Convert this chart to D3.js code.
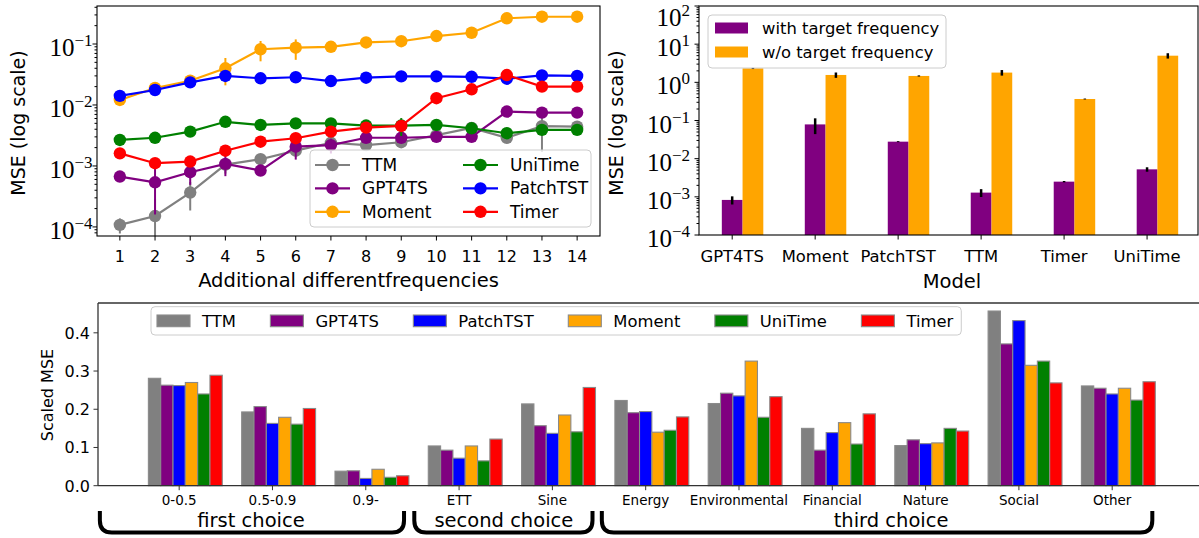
<!DOCTYPE html>
<html>
<head>
<meta charset="utf-8">
<script src="https://cdn.jsdelivr.net/npm/d3@7"></script>
<style>
  body { margin: 0; background: #fff; }
  svg { display: block; }
  text { font-family: "DejaVu Sans", sans-serif; fill: #000; }
</style>
</head>
<body>
<svg id="chart" width="1199" height="538"></svg>
<script>
// ---- data: top left (MSE vs additional frequencies) ----
var steps = [1, 2, 3, 4, 5, 6, 7, 8, 9, 10, 11, 12, 13, 14];
var lineModels = ["TTM", "GPT4TS", "Moment", "UniTime", "PatchTST", "Timer"];
var ttmMse      = [0.000108, 0.000151, 0.000366, 0.00105, 0.00129, 0.00178, 0.0024, 0.0022, 0.00245, 0.0032, 0.0042, 0.0029, 0.0045, 0.0044];
var ttmErr      = [0.00003, 0.00014, 0.00018, 0.0003, 0.0002, 0.0003, 0.0004, 0.0003, 0.0003, 0.0003, 0.0004, 0.0004, 0.0028, 0.0005];
var gpt4tsMse   = [0.00067, 0.00054, 0.00079, 0.00108, 0.00084, 0.00207, 0.0022, 0.0029, 0.0029, 0.003, 0.003, 0.0078, 0.0075, 0.0075];
var gpt4tsErr   = [0.0001, 0.00038, 0.0003, 0.0004, 0.0001, 0.0008, 0.0006, 0.0003, 0.0003, 0.0003, 0.0003, 0.0008, 0.0005, 0.0005];
var momentMse   = [0.0121, 0.019, 0.025, 0.040, 0.082, 0.087, 0.090, 0.106, 0.111, 0.135, 0.153, 0.264, 0.28, 0.28];
var momentErr   = [0.001, 0.001, 0.002, 0.019, 0.03, 0.032, 0.008, 0.008, 0.008, 0.01, 0.01, 0.015, 0.015, 0.015];
var unitimeMse  = [0.00267, 0.0029, 0.00365, 0.0053, 0.0047, 0.0050, 0.0050, 0.0046, 0.0046, 0.0047, 0.00415, 0.00344, 0.0039, 0.0039];
var unitimeErr  = [0.0002, 0.0002, 0.0003, 0.0003, 0.0003, 0.0003, 0.0003, 0.0003, 0.0015, 0.0003, 0.0003, 0.0003, 0.0003, 0.0003];
var patchtstMse = [0.0141, 0.0176, 0.0235, 0.0299, 0.0274, 0.0285, 0.0247, 0.028, 0.0295, 0.0295, 0.029, 0.027, 0.0306, 0.030];
var patchtstErr = [0.001, 0.001, 0.001, 0.001, 0.001, 0.001, 0.001, 0.001, 0.001, 0.001, 0.001, 0.001, 0.001, 0.001];
var timerMse    = [0.00161, 0.00111, 0.00118, 0.00178, 0.0025, 0.00285, 0.00366, 0.00425, 0.00453, 0.0129, 0.0181, 0.031, 0.020, 0.020];
var timerErr    = [0.0001, 0.0001, 0.0001, 0.0001, 0.0001, 0.0002, 0.0002, 0.0002, 0.0002, 0.0005, 0.0005, 0.002, 0.001, 0.001];

// ---- data: top right (with / without target frequency) ----
var barModels     = ["GPT4TS", "Moment", "PatchTST", "TTM", "Timer", "UniTime"];
var withFreq      = [0.00083, 0.079, 0.0279, 0.00129, 0.0025, 0.00525];
var withFreqErr   = [0.0002, 0.035, 0.0008, 0.0003, 0.0001, 0.0007];
var withoutFreq   = [2.33, 1.56, 1.47, 1.8, 0.366, 4.99];
var withoutFreqErr = [0.1, 0.25, 0.05, 0.3, 0.01, 0.8];

// ---- data: bottom (scaled MSE per group) ----
var groups = ["0-0.5", "0.5-0.9", "0.9-", "ETT", "Sine", "Energy", "Environmental", "Financial", "Nature", "Social", "Other"];
var groupModels = ["TTM", "GPT4TS", "PatchTST", "Moment", "UniTime", "Timer"];
var ttmScaled      = [0.281, 0.193, 0.038, 0.104, 0.214, 0.223, 0.215, 0.150, 0.105, 0.457, 0.261];
var gpt4tsScaled   = [0.263, 0.207, 0.039, 0.093, 0.157, 0.191, 0.242, 0.093, 0.120, 0.371, 0.255];
var patchtstScaled = [0.262, 0.163, 0.019, 0.072, 0.137, 0.194, 0.235, 0.139, 0.110, 0.432, 0.240];
var momentScaled   = [0.270, 0.179, 0.043, 0.104, 0.185, 0.140, 0.326, 0.165, 0.112, 0.315, 0.255];
var unitimeScaled  = [0.240, 0.161, 0.022, 0.065, 0.141, 0.145, 0.179, 0.109, 0.150, 0.326, 0.224];
var timerScaled    = [0.289, 0.202, 0.026, 0.122, 0.257, 0.180, 0.233, 0.188, 0.143, 0.269, 0.272];
var choiceLabels = ["first choice", "second choice", "third choice"];
var choiceSpans  = [[-0.85, 2.41], [2.52, 4.43], [4.53, 10.43]];
var choiceCenters = [0.77, 3.48, 7.63];

var colors = { TTM: "#808080", GPT4TS: "#800080", Moment: "#ffa500", UniTime: "#008000", PatchTST: "#0000ff", Timer: "#ff0000" };

var svg = d3.select("#chart");
var defs = svg.append("defs");

/* 10^k label in serif, right aligned; kept inside the picture at the top */
function logLabel(g, x, y, exp) {
    var base = Math.max(y + 12, 26);
    var t = g.append("text").attr("x", x).attr("y", base).attr("text-anchor", "end")
        .style("font-family", "'Liberation Serif', serif").style("font-size", "25px");
    t.append("tspan").text("10");
    t.append("tspan").attr("dy", -10).style("font-size", "17px")
        .text(exp < 0 ? "\u2212" + (-exp) : String(exp));
}

function logYAxis(g, y, x0, loExp, hiExp, labelX) {
    var dom = y.domain();
    for (var e = loExp - 1; e <= hiExp; e++) {
        for (var k = 1; k <= 9; k++) {
            var v = k * Math.pow(10, e);
            if (v < dom[0] * 0.999 || v > dom[1] * 1.001) continue;
            var len = k === 1 ? 4.5 : 2.5;
            g.append("line").attr("x1", x0 - len).attr("x2", x0).attr("y1", y(v)).attr("y2", y(v))
                .attr("stroke", "#000").attr("stroke-width", 1);
            if (k === 1 && e >= loExp) logLabel(g, labelX, y(v), e);
        }
    }
}

function frame(g, x0, y0, x1, y1) {
    g.append("rect").attr("x", x0).attr("y", y0).attr("width", x1 - x0).attr("height", y1 - y0)
        .attr("fill", "none").attr("stroke", "#000").attr("stroke-width", 1.1);
}

// ================= top left =================
var L = { x0: 97, x1: 600, y0: 6, y1: 236 };
var xL = d3.scaleLinear().domain([0.35, 14.65]).range([L.x0, L.x1]);
var yL = d3.scaleLog().domain([7.1e-5, 0.42]).range([L.y1, L.y0]);
var gL = svg.append("g");
defs.append("clipPath").attr("id", "clipL").append("rect")
    .attr("x", L.x0).attr("y", L.y0).attr("width", L.x1 - L.x0).attr("height", L.y1 - L.y0);

var lineSeries = [
    { name: "TTM", mse: ttmMse, err: ttmErr },
    { name: "GPT4TS", mse: gpt4tsMse, err: gpt4tsErr },
    { name: "Moment", mse: momentMse, err: momentErr },
    { name: "UniTime", mse: unitimeMse, err: unitimeErr },
    { name: "PatchTST", mse: patchtstMse, err: patchtstErr },
    { name: "Timer", mse: timerMse, err: timerErr }
];
var plotL = gL.append("g").attr("clip-path", "url(#clipL)");
var lineGen = d3.line().x(function (d, i) { return xL(steps[i]); }).y(function (d) { return yL(d); });
lineSeries.forEach(function (s) {
    var c = colors[s.name];
    var sg = plotL.append("g");
    sg.selectAll("line.err").data(s.mse).enter().append("line")
        .attr("x1", function (d, i) { return xL(steps[i]); })
        .attr("x2", function (d, i) { return xL(steps[i]); })
        .attr("y1", function (d, i) { return yL(d + s.err[i]); })
        .attr("y2", function (d, i) { return yL(Math.max(d - s.err[i], 1e-7)); })
        .attr("stroke", c).attr("stroke-width", 2);
    sg.append("path").attr("d", lineGen(s.mse)).attr("fill", "none").attr("stroke", c).attr("stroke-width", 2.2);
    sg.selectAll("circle").data(s.mse).enter().append("circle")
        .attr("cx", function (d, i) { return xL(steps[i]); })
        .attr("cy", function (d) { return yL(d); })
        .attr("r", 6.2).attr("fill", c);
});
frame(gL, L.x0, L.y0, L.x1, L.y1);
logYAxis(gL, yL, L.x0, -4, -1, 92.5);
steps.forEach(function (s) {
    gL.append("line").attr("x1", xL(s)).attr("x2", xL(s)).attr("y1", L.y1).attr("y2", L.y1 + 4.5)
        .attr("stroke", "#000").attr("stroke-width", 1);
    gL.append("text").attr("x", xL(s)).attr("y", 262).attr("text-anchor", "middle")
        .style("font-size", "16px").text(s);
});
gL.append("text").attr("x", (L.x0 + L.x1) / 2).attr("y", 287).attr("text-anchor", "middle")
    .style("font-size", "19.5px").text("Additional differentfrequencies");
gL.append("text").attr("transform", "translate(25,123) rotate(-90)").attr("text-anchor", "middle")
    .style("font-size", "19px").text("MSE (log scale)");

// legend (two columns)
var legL = gL.append("g");
legL.append("rect").attr("x", 310).attr("y", 150).attr("width", 281).attr("height", 77).attr("rx", 4)
    .attr("fill", "#fff").attr("fill-opacity", 0.8).attr("stroke", "#cccccc");
lineModels.forEach(function (m, i) {
    var col = Math.floor(i / 3), row = i % 3;
    var lx = 315 + col * 148, ly = 165 + row * 23.4;
    legL.append("line").attr("x1", lx).attr("x2", lx + 35).attr("y1", ly).attr("y2", ly)
        .attr("stroke", colors[m]).attr("stroke-width", 2.2);
    legL.append("circle").attr("cx", lx + 17.5).attr("cy", ly).attr("r", 6.2).attr("fill", colors[m]);
    legL.append("text").attr("x", lx + 47).attr("y", ly + 6).style("font-size", "17px").text(m);
});

// ================= top right =================
var R = { x0: 699, x1: 1198, y0: 6, y1: 235 };
var xR = d3.scaleLinear().domain([-0.4, 5.65]).range([R.x0, 1201]);
var yR = d3.scaleLog().domain([1e-4, 1e2]).range([R.y1, R.y0]);
var gR = svg.append("g");
var bw = 0.25;
barModels.forEach(function (m, i) {
    gR.append("rect").attr("x", xR(i - bw / 2)).attr("width", xR(bw) - xR(0))
        .attr("y", yR(withFreq[i])).attr("height", R.y1 - yR(withFreq[i])).attr("fill", "#800080");
    gR.append("rect").attr("x", xR(i + bw / 2)).attr("width", xR(bw) - xR(0))
        .attr("y", yR(withoutFreq[i])).attr("height", R.y1 - yR(withoutFreq[i])).attr("fill", "#ffa500");
    [[i, withFreq[i], withFreqErr[i]], [i + bw, withoutFreq[i], withoutFreqErr[i]]].forEach(function (e) {
        gR.append("line").attr("x1", xR(e[0])).attr("x2", xR(e[0]))
            .attr("y1", yR(e[1] + e[2])).attr("y2", yR(e[1] - e[2]))
            .attr("stroke", "#000").attr("stroke-width", 2.5);
    });
    gR.append("line").attr("x1", xR(i)).attr("x2", xR(i)).attr("y1", R.y1).attr("y2", R.y1 + 4.5)
        .attr("stroke", "#000").attr("stroke-width", 1);
    gR.append("text").attr("x", xR(i)).attr("y", 262).attr("text-anchor", "middle")
        .style("font-size", "16.4px").text(m);
});
frame(gR, R.x0, R.y0, R.x1, R.y1);
logYAxis(gR, yR, R.x0, -4, 2, 690);
gR.append("text").attr("x", 952).attr("y", 288).attr("text-anchor", "middle")
    .style("font-size", "19.5px").text("Model");
gR.append("text").attr("transform", "translate(623,123) rotate(-90)").attr("text-anchor", "middle")
    .style("font-size", "19px").text("MSE (log scale)");
var legR = gR.append("g");
legR.append("rect").attr("x", 708).attr("y", 15).attr("width", 238).attr("height", 53).attr("rx", 4)
    .attr("fill", "#fff").attr("fill-opacity", 0.8).attr("stroke", "#cccccc");
[["with target frequency", "#800080"], ["w/o target frequency", "#ffa500"]].forEach(function (d, i) {
    var ly = 28 + i * 24;
    legR.append("rect").attr("x", 715).attr("y", ly - 5.5).attr("width", 33).attr("height", 11).attr("fill", d[1]);
    legR.append("text").attr("x", 762).attr("y", ly + 6).style("font-size", "16.4px").text(d[0]);
});

// ================= bottom =================
var B = { x0: 98, y0: 303, y1: 485.7 };
var xB = d3.scaleLinear().domain([-0.87, 11.0]).range([B.x0, 1205.5]);
var yB = d3.scaleLinear().domain([0, 0.478]).range([B.y1, B.y0]);
var gB = svg.append("g");
var scaledSeries = [ttmScaled, gpt4tsScaled, patchtstScaled, momentScaled, unitimeScaled, timerScaled];
var gw = 0.132;
groupModels.forEach(function (m, j) {
    gB.selectAll(null).data(scaledSeries[j]).enter().append("rect")
        .attr("x", function (d, i) { return xB(i + (j - 2.5) * gw); })
        .attr("width", xB(gw) - xB(0))
        .attr("y", function (d) { return yB(d); })
        .attr("height", function (d) { return B.y1 - yB(d); })
        .attr("fill", colors[m]).attr("stroke", "#8a8a8a").attr("stroke-width", 1.1);
});
// spines
gB.append("line").attr("x1", B.x0).attr("x2", 1199).attr("y1", B.y1).attr("y2", B.y1).attr("stroke", "#333").attr("stroke-width", 1.3);
gB.append("line").attr("x1", B.x0).attr("x2", 1199).attr("y1", B.y0).attr("y2", B.y0).attr("stroke", "#333").attr("stroke-width", 1.3);
gB.append("line").attr("x1", B.x0).attr("x2", B.x0).attr("y1", B.y0).attr("y2", B.y1).attr("stroke", "#333").attr("stroke-width", 1.3);
[0, 0.1, 0.2, 0.3, 0.4].forEach(function (t) {
    gB.append("line").attr("x1", B.x0 - 4.5).attr("x2", B.x0).attr("y1", yB(t)).attr("y2", yB(t)).attr("stroke", "#333");
    gB.append("text").attr("x", 90).attr("y", yB(t) + 5.8).attr("text-anchor", "end")
        .style("font-size", "16px").text(t.toFixed(1));
});
groups.forEach(function (gname, i) {
    gB.append("line").attr("x1", xB(i)).attr("x2", xB(i)).attr("y1", B.y1).attr("y2", B.y1 + 4.5).attr("stroke", "#333");
    gB.append("text").attr("x", xB(i)).attr("y", 505).attr("text-anchor", "middle")
        .style("font-size", "13.5px").text(gname);
});
gB.append("text").attr("transform", "translate(53,395) rotate(-90)").attr("text-anchor", "middle")
    .style("font-size", "16px").text("Scaled MSE");

// legend, one row
var legB = gB.append("g");
var legBox = legB.append("rect").attr("x", 151).attr("y", 306.7).attr("height", 28.3).attr("rx", 4)
    .attr("fill", "#fff").attr("fill-opacity", 0.8).attr("stroke", "#cccccc");
var lx = 157;
groupModels.forEach(function (m) {
    legB.append("rect").attr("x", lx).attr("y", 315).attr("width", 33).attr("height", 11.7)
        .attr("fill", colors[m]).attr("stroke", "#8a8a8a").attr("stroke-width", 1.1);
    var t = legB.append("text").attr("x", lx + 45).attr("y", 327).style("font-size", "16.4px").text(m);
    lx = lx + 45 + t.node().getComputedTextLength() + 34.5;
});
legBox.attr("width", lx - 34.5 + 8 - 151);

// braces
choiceSpans.forEach(function (sp, i) {
    var a = xB(sp[0]), b = xB(sp[1]), top = 511, bot = 532.5, r = 12;
    gB.append("path")
        .attr("d", "M" + a + "," + top + "L" + a + "," + (bot - r) + "Q" + a + "," + bot + " " + (a + r) + "," + bot +
            "L" + (b - r) + "," + bot + "Q" + b + "," + bot + " " + b + "," + (bot - r) + "L" + b + "," + top)
        .attr("fill", "none").attr("stroke", "#000").attr("stroke-width", 4);
    gB.append("text").attr("x", xB(choiceCenters[i])).attr("y", 526.5).attr("text-anchor", "middle")
        .style("font-size", "19.5px").text(choiceLabels[i]);
});
</script>
</body>
</html>
